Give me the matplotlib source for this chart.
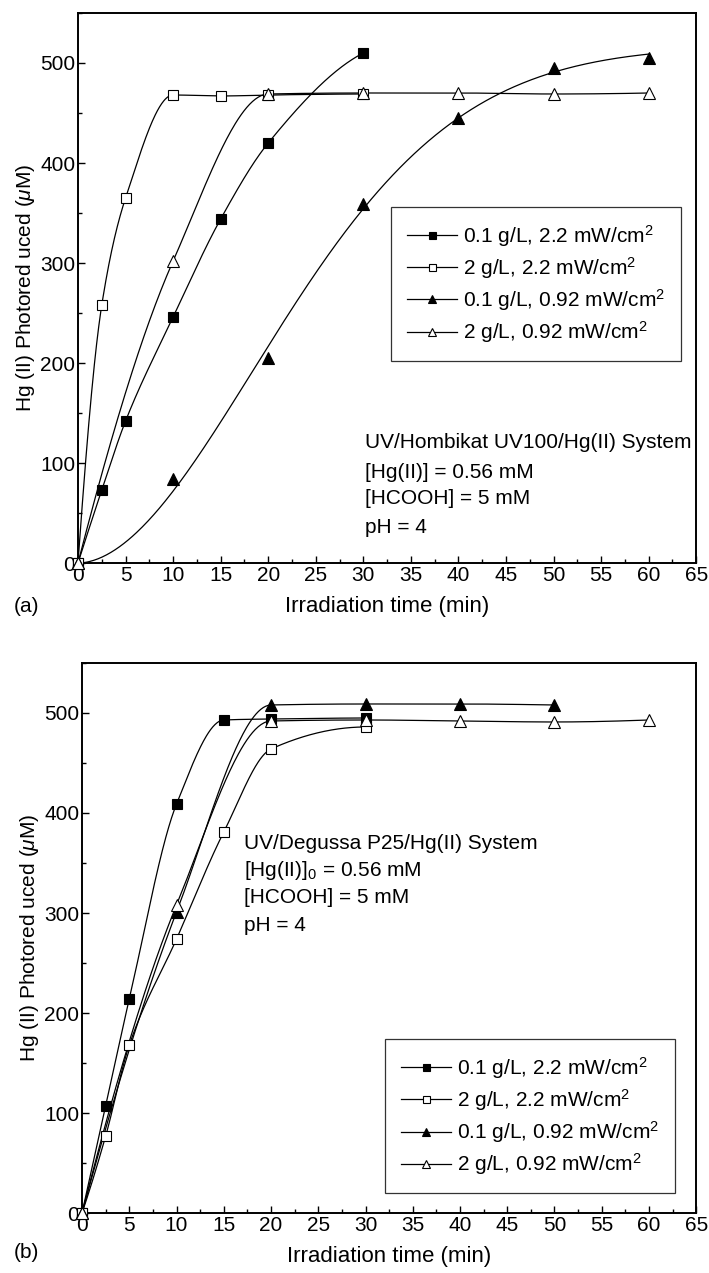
import numpy as np
import matplotlib
matplotlib.use("Agg")
import matplotlib.pyplot as plt
from matplotlib.lines import Line2D
from matplotlib.ticker import MultipleLocator

plt.rcParams["font.family"] = ["Liberation Sans", "DejaVu Sans"]
plt.rcParams["mathtext.fontset"] = "custom"
plt.rcParams["mathtext.rm"] = "Liberation Sans"
plt.rcParams["mathtext.it"] = "Liberation Sans:italic"
plt.rcParams["font.size"] = 15

# ---- data, panel (a): UV/Hombikat UV100 ----
a_t_fsq = [0, 2.5, 5, 10, 15, 20, 30]
a_y_fsq = [0, 73, 142, 246, 344, 420, 510]
a_t_osq = [0, 2.5, 5, 10, 15, 20, 30]
a_y_osq = [0, 258, 365, 468, 467, 468, 469]
a_t_ftri = [0, 10, 20, 30, 40, 50, 60]
a_y_ftri = [0, 84, 205, 359, 445, 495, 505]
a_t_otri = [0, 10, 20, 30, 40, 50, 60]
a_y_otri = [0, 302, 469, 470, 470, 469, 470]
a_kinds = ["spline", "spline", "fit", "spline"]

# ---- data, panel (b): UV/Degussa P25 ----
b_t_fsq = [0, 2.5, 5, 10, 15, 20, 30]
b_y_fsq = [0, 107, 214, 409, 493, 494, 495]
b_t_osq = [0, 2.5, 5, 10, 15, 20, 30]
b_y_osq = [0, 77, 168, 274, 381, 464, 486]
b_t_ftri = [0, 10, 20, 30, 40, 50]
b_y_ftri = [0, 301, 508, 509, 509, 508]
b_t_otri = [0, 10, 20, 30, 40, 50, 60]
b_y_otri = [0, 308, 492, 493, 492, 491, 493]
b_kinds = ["spline", "spline", "spline", "spline"]

labels = [r"0.1 g/L, 2.2 mW/cm$^2$", r"2 g/L, 2.2 mW/cm$^2$",
          r"0.1 g/L, 0.92 mW/cm$^2$", r"2 g/L, 0.92 mW/cm$^2$"]
styles = [("s", "black", 7), ("s", "white", 7), ("^", "black", 8), ("^", "white", 8)]

a_notes = ["UV/Hombikat UV100/Hg(II) System", "[Hg(II)] = 0.56 mM",
           "[HCOOH] = 5 mM", "pH = 4"]
b_notes = ["UV/Degussa P25/Hg(II) System", r"[Hg(II)]$_0$ = 0.56 mM",
           "[HCOOH] = 5 mM", "pH = 4"]


def pchip_curve(t, y, n=400):
    """Smooth monotone (Fritsch-Carlson) curve through the measured points."""
    x = np.asarray(t, float)
    y = np.asarray(y, float)
    h = np.diff(x)
    dl = np.diff(y) / h
    d = np.zeros_like(x)
    for k in range(1, len(x) - 1):
        if dl[k - 1] * dl[k] > 0:
            w1 = 2 * h[k] + h[k - 1]
            w2 = h[k] + 2 * h[k - 1]
            d[k] = (w1 + w2) / (w1 / dl[k - 1] + w2 / dl[k])
    def end_slope(h0, h1, m0, m1):
        s = ((2 * h0 + h1) * m0 - h0 * m1) / (h0 + h1)
        if np.sign(s) != np.sign(m0):
            return 0.0
        if np.sign(m0) != np.sign(m1) and abs(s) > abs(3 * m0):
            return 3 * m0
        return s
    d[0] = end_slope(h[0], h[1], dl[0], dl[1])
    d[-1] = end_slope(h[-1], h[-2], dl[-1], dl[-2])
    tt = np.linspace(x[0], x[-1], n)
    idx = np.clip(np.searchsorted(x, tt) - 1, 0, len(h) - 1)
    s = (tt - x[idx]) / h[idx]
    h00 = 2 * s**3 - 3 * s**2 + 1
    h10 = s**3 - 2 * s**2 + s
    h01 = -2 * s**3 + 3 * s**2
    h11 = s**3 - s**2
    yy = (h00 * y[idx] + h10 * h[idx] * d[idx]
          + h01 * y[idx + 1] + h11 * h[idx] * d[idx + 1])
    return tt, yy


def weibull_fit(t, y, n=400):
    """Least-squares fit of y = A(1 - exp(-(t/tau)^p)) by grid search."""
    t = np.asarray(t, float)
    y = np.asarray(y, float)
    taus = np.linspace(1, 80, 400)
    ps = np.linspace(0.8, 4, 161)
    T, P = np.meshgrid(taus, ps, indexing="ij")
    f = 1 - np.exp(-(t[None, None, :] / T[..., None]) ** P[..., None])
    A = (f * y).sum(-1) / (f * f).sum(-1)
    err = ((A[..., None] * f - y) ** 2).sum(-1)
    i, j = np.unravel_index(np.argmin(err), err.shape)
    tt = np.linspace(0, t.max(), n)
    return tt, A[i, j] * (1 - np.exp(-(tt / taus[i]) ** ps[j]))


def draw_panel(ax, series, kinds, notes, note_x, note_y, leg_anchor):
    for (t, y), (m, fc, ms), kind in zip(series, styles, kinds):
        tt, yy = pchip_curve(t, y) if kind == "spline" else weibull_fit(t, y)
        ax.plot(tt, yy, color="black", lw=0.9, zorder=2)
        ax.plot(t, y, ls="none", marker=m, ms=ms, mfc=fc, mec="black",
                mew=0.8, zorder=3, clip_on=False)
    ax.set_xlim(0, 65)
    ax.set_ylim(0, 550)
    ax.xaxis.set_major_locator(MultipleLocator(5))
    ax.xaxis.set_minor_locator(MultipleLocator(2.5))
    ax.yaxis.set_major_locator(MultipleLocator(100))
    ax.yaxis.set_minor_locator(MultipleLocator(50))
    ax.tick_params(which="both", direction="in", width=1.0)
    ax.tick_params(which="major", length=5, pad=2, labelsize=15)
    ax.tick_params(which="minor", length=3)
    for sp in ax.spines.values():
        sp.set_linewidth(1.4)
    ax.set_xlabel("Irradiation time (min)", fontsize=16, labelpad=8)
    ax.set_ylabel(r"Hg (II) Photored uced ($\mu$M)", fontsize=15, labelpad=2)
    for k, line in enumerate(notes):
        ax.text(note_x, note_y[k], line, fontsize=15, va="center", ha="left")
    handles = [Line2D([], [], color="black", lw=0.9, marker=m, ms=ms * 0.72,
                      mfc=fc, mec="black", mew=0.8) for m, fc, ms in styles]
    leg = ax.legend(handles, labels, loc="upper left", bbox_to_anchor=leg_anchor,
                    borderaxespad=0, frameon=True, fancybox=False, fontsize=15,
                    handlelength=2.4, handletextpad=0.3, labelspacing=0.3,
                    borderpad=0.75)
    leg.get_frame().set_edgecolor("black")
    leg.get_frame().set_linewidth(0.9)


fig = plt.figure(figsize=(7.09, 12.73), dpi=100)
ax1 = fig.add_axes([0.110, 0.5577, 0.872, 0.4321])
ax2 = fig.add_axes([0.1157, 0.0471, 0.8663, 0.4321])

draw_panel(ax1,
           [(a_t_fsq, a_y_fsq), (a_t_osq, a_y_osq),
            (a_t_ftri, a_y_ftri), (a_t_otri, a_y_otri)],
           a_kinds, a_notes, 30.2, [121, 91, 65, 36], (0.5065, 0.647))
draw_panel(ax2,
           [(b_t_fsq, b_y_fsq), (b_t_osq, b_y_osq),
            (b_t_ftri, b_y_ftri), (b_t_otri, b_y_otri)],
           b_kinds, b_notes, 17.1, [369, 343, 316, 288], (0.4935, 0.316))

fig.text(14 / 709, 1 - 606 / 1273, "(a)", fontsize=15, va="center", ha="left")
fig.text(14 / 709, 1 - 1252 / 1273, "(b)", fontsize=15, va="center", ha="left")

fig.savefig("out.png", dpi=100)
